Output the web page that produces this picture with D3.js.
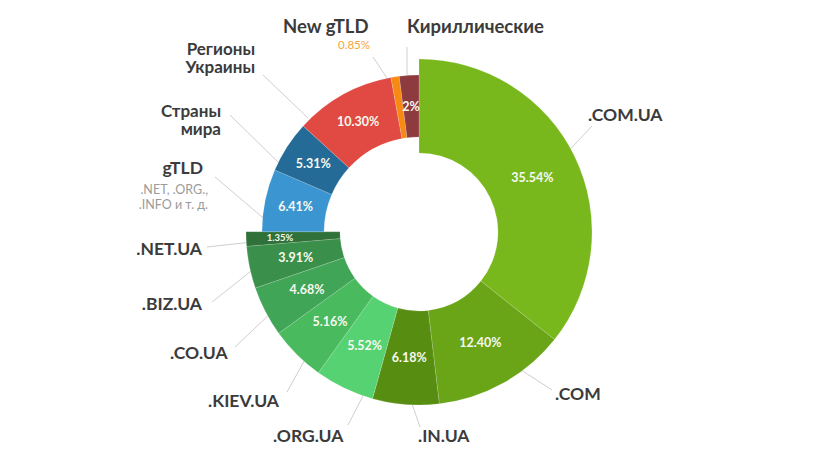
<!DOCTYPE html>
<html>
<head>
<meta charset="utf-8">
<script src="https://cdn.jsdelivr.net/npm/d3@7"></script>
<style>
	body{margin:0;background:#fff;}
	svg{display:block;font-family:Lato,"Open Sans",sans-serif;}
</style>
</head>
<body>
<svg id="chart" width="819" height="466"></svg>
<script>
// data, clockwise from 12 o'clock
var names = ['.COM.UA', '.COM', '.IN.UA', '.ORG.UA', '.KIEV.UA', '.CO.UA', '.BIZ.UA', '.NET.UA',
	'gTLD', 'Страны мира', 'Регионы Украины', 'New gTLD', 'Кириллические'];
var shares = [35.54, 12.40, 6.18, 5.52, 5.16, 4.68, 3.91, 1.35, 6.41, 5.31, 10.30, 0.85, 2];
var shareText = ['35.54%', '12.40%', '6.18%', '5.52%', '5.16%', '4.68%', '3.91%', '1.35%',
	'6.41%', '5.31%', '10.30%', '0.85%', '2%'];
// true = Ukrainian zones (drawn as the thicker ring)
var uaZone = [true, true, true, true, true, true, true, true, false, false, false, false, false];
var colors = ['#79b81d', '#69a516', '#578e12', '#56d272', '#49bb5e', '#40a557', '#3a8f4a', '#2f7138',
	'#3a95d0', '#256b97', '#e04a43', '#f68a12', '#8e3b40'];

// label layout (text lines, anchor, font size, leader line)
var labels = [
	{i: 0, lines: ['.COM.UA'], x: 588, y: 121, anchor: 'start', size: 17.5, line: [592, 126, 560, 160]},
	{i: 1, lines: ['.COM'], x: 555, y: 400, anchor: 'start', size: 17.5, line: [552, 390, 518, 368]},
	{i: 2, lines: ['.IN.UA'], x: 418, y: 442, anchor: 'start', size: 17.5, line: [420, 427, 410, 398]},
	{i: 3, lines: ['.ORG.UA'], x: 273, y: 442, anchor: 'start', size: 17.5, line: [348, 425, 365, 392]},
	{i: 4, lines: ['.KIEV.UA'], x: 208, y: 407, anchor: 'start', size: 17.5, line: [287, 392, 307, 356]},
	{i: 5, lines: ['.CO.UA'], x: 170, y: 359, anchor: 'start', size: 17.5, line: [235, 347, 272, 312]},
	{i: 6, lines: ['.BIZ.UA'], x: 202, y: 310, anchor: 'end', size: 17.5, line: [212, 302, 255, 268]},
	{i: 7, lines: ['.NET.UA'], x: 202, y: 255, anchor: 'end', size: 17.5, line: [207, 247, 252, 242]},
	{i: 8, lines: ['gTLD'], x: 203, y: 174, anchor: 'end', size: 17.5, line: [215, 177, 268, 222],
		sub: ['.NET, .ORG.,', '.INFO и т. д.'], subX: 208, subY: 194},
	{i: 9, lines: ['Страны', 'мира'], x: 221, y: 117, anchor: 'end', size: 17, line: [230, 115, 280, 164]},
	{i: 10, lines: ['Регионы', 'Украины'], x: 255, y: 55, anchor: 'end', size: 17, line: [263, 75, 308, 118]},
	{i: 11, lines: ['New gTLD'], x: 283, y: 33, anchor: 'start', size: 18.5, line: [373, 57, 391, 84],
		outside: true, oX: 338, oY: 49},
	{i: 12, lines: ['Кириллические'], x: 407, y: 33, anchor: 'start', size: 18.5, line: [407, 47, 407, 80]}
];

var cx = 419, cy = 232;
var svg = d3.select('#chart');

var pie = d3.pie().sort(null).value(function(d){ return d; });
var arcs = pie(shares);

var arcUa = d3.arc().innerRadius(79).outerRadius(173);
var arcOther = d3.arc().innerRadius(95).outerRadius(157);

// leader lines go under the slices
svg.append('g')
	.selectAll('line')
	.data(labels)
	.enter()
	.append('line')
	.attr('x1', function(d){ return d.line[0]; })
	.attr('y1', function(d){ return d.line[1]; })
	.attr('x2', function(d){ return d.line[2]; })
	.attr('y2', function(d){ return d.line[3]; })
	.style('stroke', '#cfcfcf')
	.style('stroke-width', 1);

var g = svg.append('g').attr('transform', 'translate(' + cx + ',' + cy + ')');

g.selectAll('path')
	.data(arcs)
	.enter()
	.append('path')
	.attr('d', function(d, i){ return uaZone[i] ? arcUa(d) : arcOther(d); })
	.style('fill', function(d, i){ return colors[i]; })
	.style('stroke', '#fff')
	.style('stroke-opacity', 0.25)
	.style('stroke-width', 0.6);

var mid = d3.arc().innerRadius(126).outerRadius(126);
var midSmall = d3.arc().innerRadius(139).outerRadius(139);

g.selectAll('text.pct')
	.data(arcs.filter(function(d, i){ return i != 11; }))
	.enter()
	.append('text')
	.attr('class', 'pct')
	.attr('transform', function(d){
		var c = (d.index == 7) ? midSmall.centroid(d) : mid.centroid(d);
		return 'translate(' + c[0] + ',' + c[1] + ')';
	})
	.attr('text-anchor', 'middle')
	.attr('dy', '0.36em')
	.style('fill', '#f7f9f0')
	.style('font-weight', 700)
	.style('font-size', function(d){ return d.index == 7 ? '9.5px' : '12.5px'; })
	.text(function(d){ return shareText[d.index]; });

// outside labels
var lab = svg.append('g');
labels.forEach(function(d){
	var t = lab.append('text')
		.attr('x', d.x)
		.attr('y', d.y)
		.attr('text-anchor', d.anchor)
		.style('fill', '#3b3b3b')
		.style('font-weight', 700)
		.style('font-size', d.size + 'px');
	d.lines.forEach(function(s, k){
		t.append('tspan').attr('x', d.x).attr('dy', k == 0 ? 0 : 18).text(s);
	});
	if(d.sub){
		d.sub.forEach(function(s, k){
			lab.append('text')
				.attr('x', d.subX)
				.attr('y', d.subY + k * 15)
				.attr('text-anchor', 'end')
				.style('fill', '#9b9b9b')
				.style('font-size', '12.5px')
				.text(s);
		});
	}
	if(d.outside){
		lab.append('text')
			.attr('x', d.oX)
			.attr('y', d.oY)
			.style('fill', '#f4a43c')
			.style('font-size', '11.5px')
			.text(shareText[d.i]);
	}
});
</script>
</body>
</html>
